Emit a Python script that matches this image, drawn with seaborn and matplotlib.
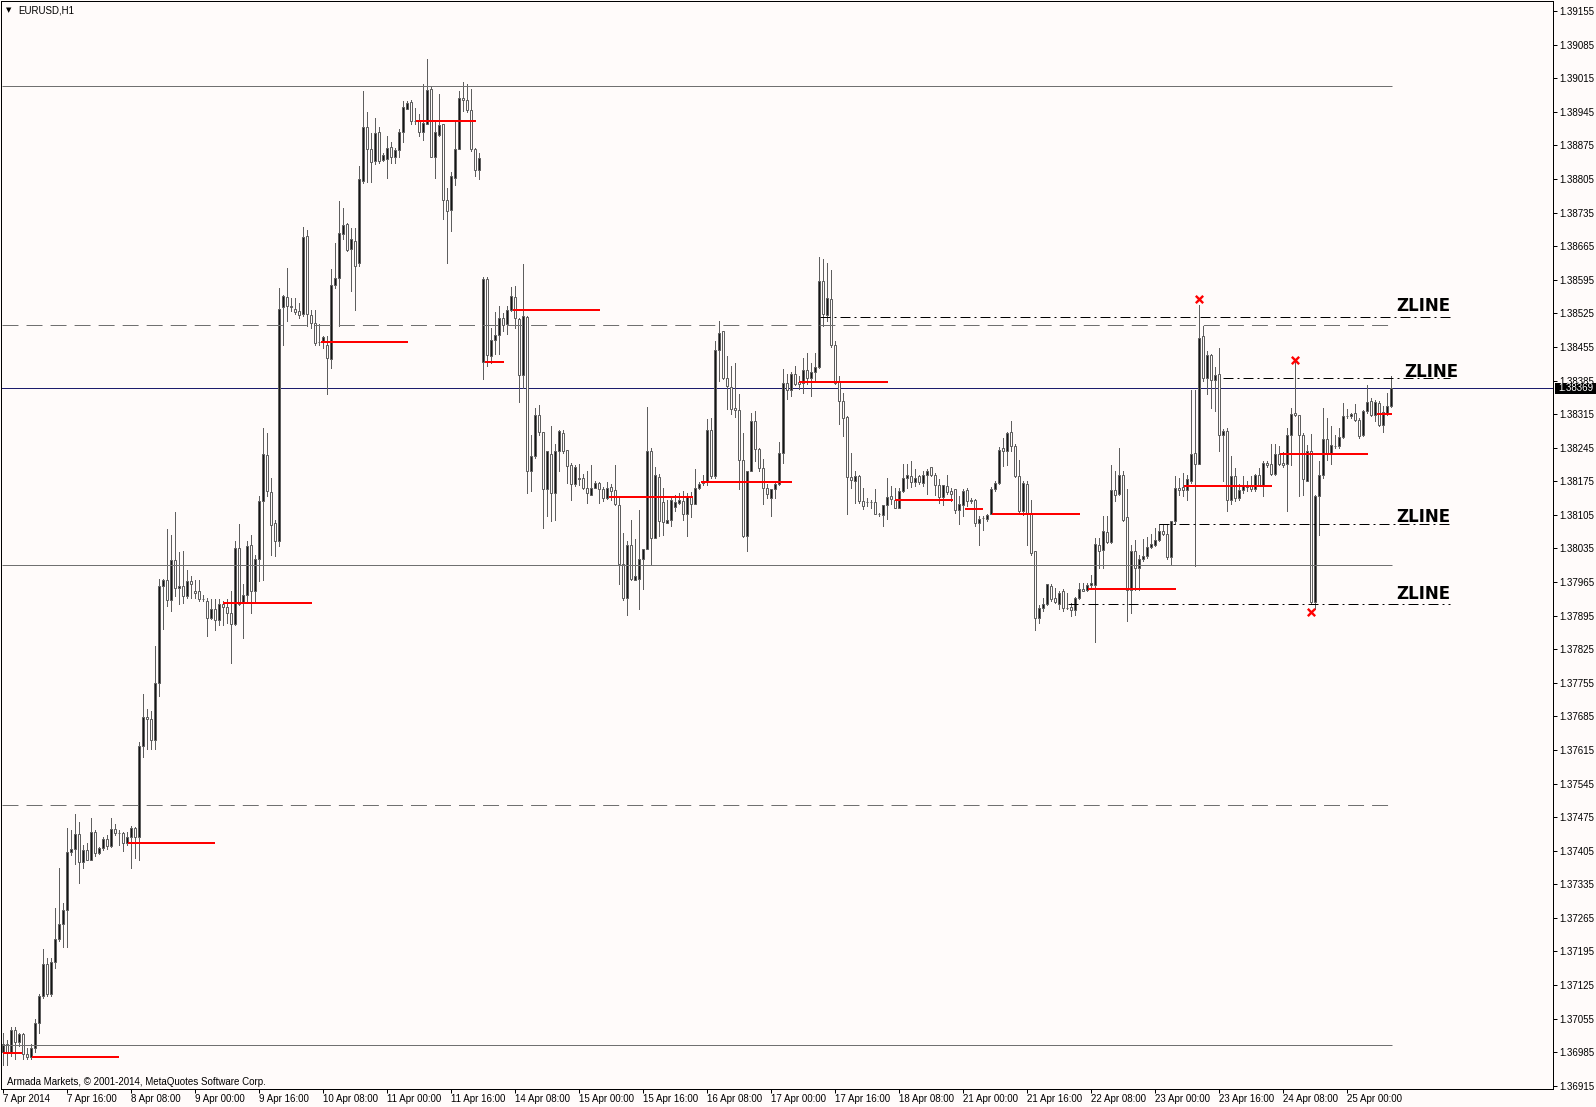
import numpy as np
import matplotlib
matplotlib.use("Agg")
import matplotlib.pyplot as plt
import matplotlib.transforms as mtransforms
from matplotlib.patches import Rectangle
import seaborn as sns

# EURUSD H1, 7 Apr 2014 .. 25 Apr 2014, one value per bar
# prices stored as pips above BASE (1.3600 + pips / 10000)
BASE = 1.36

bar_open = [
    98.6, 100.2, 98.6, 103.2, 100.6, 102.2, 98.2, 97.4, 99.4, 104.6,
    110.2, 116.8, 110.6, 117.3, 122.0, 125.3, 128.1, 140.3, 140.9, 143.9,
    138.1, 140.7, 138.6, 144.5, 140.1, 141.1, 142.9, 141.5, 145.0, 144.2,
    144.1, 142.1, 143.3, 145.3, 143.3, 162.4, 168.4, 167.9, 163.6, 175.4,
    195.6, 196.9, 192.8, 201.1, 195.2, 195.6, 193.6, 196.7, 194.7, 194.7,
    192.9, 192.6, 189.0, 190.8, 188.5, 192.0, 191.2, 190.1, 187.8, 203.6,
    192.1, 193.7, 204.2, 194.7, 201.2, 213.4, 223.0, 215.3, 208.8, 205.0,
    253.8, 255.9, 254.0, 253.5, 253.0, 252.3, 268.6, 252.1, 250.5, 246.5,
    246.5, 245.9, 242.9, 258.4, 259.8, 269.1, 271.2, 266.0, 267.6, 262.9,
    280.0, 291.4, 286.7, 284.3, 290.4, 284.4, 284.6, 287.1, 285.0, 286.5,
    290.4, 295.2, 296.6, 292.6, 292.8, 290.4, 291.9, 299.2, 285.0, 289.7,
    291.9, 276.2, 274.1, 280.8, 286.7, 297.3, 297.0, 294.8, 286.7, 282.3,
    242.4, 259.6, 243.6, 246.9, 248.0, 251.6, 250.2, 253.2, 255.9, 251.3,
    239.6, 251.8, 219.7, 222.7, 231.4, 227.7, 215.8, 223.2, 215.1, 223.8,
    227.5, 224.0, 220.8, 217.0, 218.0, 218.1, 216.1, 214.7, 216.1, 217.2,
    215.8, 214.0, 216.3, 215.6, 212.5, 200.3, 193.1, 204.2, 197.0, 197.2,
    201.2, 203.3, 223.8, 205.6, 218.4, 213.2, 208.8, 209.5, 212.1, 213.0,
    213.4, 210.7, 214.4, 212.7, 216.0, 217.2, 217.4, 228.1, 218.6, 244.8,
    248.8, 239.1, 237.2, 232.7, 232.3, 221.9, 206.1, 219.7, 230.1, 224.2,
    220.2, 216.0, 214.1, 215.8, 216.9, 223.5, 237.9, 236.5, 239.8, 238.1,
    237.9, 240.6, 239.0, 240.2, 241.3, 259.3, 252.2, 255.6, 245.9, 238.1,
    234.2, 230.8, 218.3, 217.6, 218.6, 213.4, 213.2, 213.2, 213.2, 210.6,
    210.5, 212.5, 214.4, 213.5, 212.0, 215.4, 218.1, 218.6, 217.4, 218.6,
    217.2, 218.8, 220.4, 218.9, 216.8, 214.3, 216.5, 215.4, 215.8, 211.6,
    212.6, 215.6, 213.4, 213.6, 208.8, 209.8, 209.7, 210.6, 215.8, 217.2,
    224.5, 223.8, 227.8, 224.8, 218.6, 211.3, 217.0, 210.9, 202.9, 189.0,
    191.0, 191.9, 195.6, 193.1, 192.0, 194.7, 191.1, 191.3, 190.6, 193.1,
    195.1, 194.9, 195.8, 195.8, 204.3, 203.1, 206.9, 204.9, 215.6, 214.9,
    218.9, 210.0, 194.9, 203.0, 199.4, 201.2, 201.9, 203.8, 204.3, 205.3,
    207.1, 206.6, 201.7, 209.2, 216.1, 216.4, 215.6, 217.5, 223.4, 221.1,
    247.7, 239.0, 243.9, 238.7, 239.9, 227.2, 227.9, 213.5, 218.5, 214.0,
    215.6, 216.7, 216.5, 215.8, 218.8, 216.7, 221.3, 221.1, 219.0, 223.1,
    221.3, 221.1, 227.2, 231.7, 231.3, 227.1, 217.6, 223.9, 192.3, 214.4,
    218.8, 226.4, 223.1, 224.9, 224.8, 226.7, 231.2, 231.1, 231.7, 230.2,
    227.1, 232.1, 234.3, 231.3, 233.8, 229.2, 231.8, 233.1,
]

bar_high = [
    102.6, 101.0, 103.8, 103.8, 102.6, 102.6, 99.4, 100.2, 105.4, 110.6,
    120.1, 118.1, 118.1, 128.5, 136.9, 129.7, 145.3, 144.9, 148.1, 146.5,
    141.7, 142.1, 147.3, 144.9, 141.3, 143.3, 143.7, 147.3, 146.1, 144.9,
    144.5, 144.5, 145.7, 145.5, 163.2, 173.2, 170.0, 169.6, 183.2, 197.2,
    197.2, 207.5, 206.3, 211.1, 202.7, 202.9, 199.1, 197.8, 197.0, 197.0,
    193.9, 193.2, 192.9, 192.9, 192.9, 192.5, 192.9, 194.6, 205.0, 208.5,
    196.0, 205.0, 206.4, 202.2, 214.4, 228.6, 227.6, 218.2, 209.5, 257.8,
    256.4, 262.0, 255.7, 255.7, 254.7, 270.5, 269.8, 253.3, 253.3, 250.2,
    247.7, 247.7, 261.7, 267.2, 275.9, 274.5, 271.4, 270.2, 270.2, 283.2,
    298.9, 294.4, 290.2, 293.3, 291.4, 286.0, 289.5, 288.3, 287.0, 291.0,
    296.7, 296.8, 297.0, 295.4, 294.0, 300.3, 305.5, 299.9, 292.3, 298.2,
    291.9, 278.7, 282.0, 292.3, 298.9, 300.8, 300.4, 299.2, 287.0, 286.0,
    260.0, 260.0, 249.5, 252.7, 254.1, 252.5, 254.1, 257.9, 258.2, 251.6,
    262.7, 252.0, 227.2, 232.8, 233.4, 227.7, 223.8, 229.0, 225.2, 228.1,
    228.1, 224.1, 221.3, 221.0, 221.1, 219.0, 219.6, 221.0, 217.5, 217.4,
    216.3, 217.4, 217.0, 220.9, 214.0, 206.7, 205.1, 209.5, 205.4, 211.6,
    203.3, 233.0, 224.5, 220.4, 219.0, 216.1, 213.5, 214.4, 214.7, 215.1,
    215.4, 215.1, 215.3, 220.0, 217.4, 218.8, 230.4, 230.7, 246.7, 250.9,
    248.9, 243.6, 241.5, 242.2, 235.6, 227.6, 219.7, 231.8, 232.2, 224.5,
    222.1, 216.9, 215.8, 217.2, 225.6, 240.9, 239.8, 240.2, 241.5, 239.5,
    243.3, 244.3, 242.2, 244.3, 264.3, 263.8, 263.1, 261.5, 246.8, 239.5,
    236.0, 231.1, 223.5, 219.6, 218.9, 216.2, 214.1, 213.7, 215.8, 210.9,
    212.5, 218.1, 216.5, 216.2, 216.2, 221.1, 221.1, 221.8, 220.0, 218.9,
    219.6, 220.0, 220.4, 219.3, 217.9, 216.8, 218.8, 216.1, 215.8, 214.4,
    215.8, 216.0, 214.1, 213.8, 210.2, 210.2, 210.7, 216.3, 217.5, 224.6,
    226.6, 227.8, 230.0, 225.3, 222.0, 217.5, 217.5, 213.7, 202.9, 191.8,
    193.2, 196.1, 196.0, 195.3, 194.7, 195.1, 194.2, 192.2, 193.3, 196.3,
    196.3, 196.3, 198.0, 205.7, 205.7, 210.2, 210.2, 221.0, 219.7, 224.5,
    219.6, 215.8, 204.3, 205.3, 202.2, 205.5, 205.8, 206.5, 207.8, 208.5,
    208.5, 208.6, 209.2, 218.5, 218.1, 219.2, 218.8, 236.6, 236.6, 254.2,
    249.8, 244.6, 244.0, 241.3, 245.3, 228.3, 228.6, 222.7, 220.3, 217.0,
    218.5, 217.5, 218.5, 219.0, 220.3, 221.7, 221.8, 225.3, 225.3, 224.8,
    223.6, 228.6, 232.8, 242.5, 231.4, 227.6, 225.1, 227.4, 214.7, 221.7,
    232.8, 230.7, 229.0, 227.2, 228.6, 233.8, 232.5, 231.8, 233.6, 230.7,
    232.4, 237.5, 234.9, 234.5, 234.3, 233.1, 235.9, 239.4,
]

bar_low = [
    95.8, 95.8, 97.8, 97.0, 99.8, 97.0, 97.0, 97.0, 98.6, 102.6,
    109.8, 110.2, 110.2, 116.1, 121.7, 120.5, 120.5, 139.7, 137.7, 133.7,
    136.9, 138.5, 138.5, 139.3, 139.9, 140.7, 140.9, 141.3, 143.7, 141.7,
    140.5, 141.7, 136.9, 138.9, 138.5, 160.0, 161.6, 161.6, 161.6, 172.8,
    186.8, 191.6, 190.4, 193.6, 192.0, 192.2, 193.2, 193.2, 193.2, 192.5,
    192.5, 185.2, 188.8, 186.6, 187.6, 187.6, 187.9, 179.6, 187.6, 191.8,
    184.9, 192.2, 190.1, 192.2, 196.7, 197.0, 214.4, 202.2, 201.9, 204.0,
    246.0, 250.9, 253.0, 252.3, 251.6, 251.9, 249.8, 249.5, 246.0, 246.0,
    245.3, 235.6, 241.2, 257.8, 249.8, 268.0, 265.5, 257.1, 253.3, 262.4,
    279.7, 279.8, 279.8, 283.6, 283.9, 284.3, 280.7, 283.9, 283.9, 285.2,
    288.3, 295.0, 292.0, 291.9, 289.5, 288.6, 291.9, 285.0, 280.8, 289.5,
    272.1, 263.1, 269.6, 279.3, 286.7, 294.7, 294.4, 286.4, 281.2, 280.5,
    238.8, 241.5, 242.2, 244.0, 244.0, 248.8, 248.1, 253.0, 249.5, 234.0,
    237.0, 215.0, 215.4, 222.4, 227.2, 207.8, 210.2, 209.2, 209.5, 219.6,
    223.4, 217.2, 213.7, 216.5, 216.8, 215.8, 213.0, 214.6, 216.0, 213.0,
    213.4, 213.9, 213.7, 212.5, 196.1, 192.8, 189.7, 197.0, 197.0, 190.8,
    195.1, 203.3, 200.1, 205.6, 206.1, 206.4, 208.8, 208.1, 211.3, 212.7,
    209.5, 206.1, 210.0, 212.7, 215.8, 216.8, 216.8, 218.2, 218.2, 238.4,
    238.8, 232.5, 231.5, 230.8, 215.8, 205.8, 203.0, 219.7, 221.7, 219.7,
    212.7, 214.1, 210.3, 214.1, 216.7, 221.4, 234.6, 235.3, 237.6, 236.7,
    236.0, 237.7, 235.3, 238.4, 241.2, 249.9, 250.9, 245.4, 237.7, 229.4,
    226.9, 210.6, 216.2, 213.0, 213.0, 211.7, 212.4, 212.0, 210.6, 210.2,
    208.2, 209.6, 212.7, 212.0, 212.0, 215.3, 216.1, 216.3, 216.5, 217.0,
    216.5, 214.9, 218.6, 214.7, 213.0, 212.5, 214.9, 213.4, 210.9, 208.5,
    210.2, 212.3, 213.0, 208.1, 204.3, 207.4, 209.2, 210.6, 215.4, 217.0,
    220.6, 221.0, 223.9, 218.4, 210.9, 210.4, 204.3, 202.1, 186.6, 188.0,
    190.4, 191.7, 192.5, 192.2, 190.8, 190.4, 190.8, 189.4, 189.7, 192.9,
    194.6, 194.7, 195.3, 184.1, 199.4, 199.4, 204.7, 204.7, 213.3, 214.7,
    209.2, 188.3, 190.1, 194.9, 194.9, 200.8, 201.5, 203.6, 204.0, 205.0,
    206.4, 201.4, 200.1, 208.6, 214.7, 214.4, 213.7, 217.2, 199.8, 221.1,
    238.4, 235.6, 232.8, 232.1, 223.8, 217.5, 211.3, 212.8, 213.3, 213.7,
    215.1, 215.4, 215.4, 215.4, 216.5, 214.4, 220.4, 218.9, 218.9, 221.0,
    220.4, 211.3, 221.0, 231.1, 214.4, 214.7, 217.5, 191.9, 190.8, 206.4,
    218.2, 222.0, 221.1, 224.5, 224.5, 226.5, 230.7, 230.7, 230.0, 226.5,
    226.9, 231.7, 231.1, 230.0, 229.0, 227.8, 231.4, 233.0,
]

bar_close = [
    100.2, 98.6, 103.2, 100.6, 102.2, 98.2, 97.4, 99.4, 104.6, 110.2,
    116.8, 110.6, 117.3, 122.0, 125.3, 128.1, 140.3, 140.9, 143.9, 138.1,
    140.7, 138.6, 144.5, 140.1, 141.1, 142.9, 141.5, 145.0, 144.2, 144.1,
    142.1, 143.3, 145.3, 143.3, 162.4, 168.4, 167.9, 163.6, 175.4, 195.6,
    196.9, 192.8, 201.1, 195.2, 195.6, 193.6, 196.7, 196.1, 194.2, 192.9,
    192.9, 189.0, 190.8, 188.5, 192.0, 191.3, 190.1, 187.8, 203.6, 191.9,
    193.9, 204.0, 194.7, 201.2, 213.4, 223.1, 215.4, 208.4, 205.0, 253.5,
    256.1, 254.0, 253.8, 252.8, 252.1, 268.4, 252.3, 250.5, 246.4, 246.5,
    247.5, 243.1, 258.5, 259.8, 269.3, 271.0, 265.8, 267.9, 262.3, 280.5,
    291.4, 286.7, 284.1, 290.0, 284.3, 285.5, 286.9, 285.0, 286.5, 290.3,
    295.5, 296.4, 292.5, 292.6, 290.4, 292.1, 299.0, 285.0, 290.4, 291.8,
    276.2, 273.9, 281.2, 286.7, 297.3, 297.0, 294.8, 286.7, 282.3, 284.8,
    259.6, 243.8, 246.9, 248.0, 251.6, 250.1, 253.2, 256.1, 251.5, 239.6,
    252.0, 219.7, 222.7, 231.3, 227.8, 215.8, 223.8, 215.1, 223.8, 227.9,
    223.8, 220.6, 217.0, 220.4, 218.2, 216.1, 215.1, 216.1, 217.2, 215.8,
    214.0, 216.0, 215.4, 212.7, 200.3, 193.2, 204.2, 197.2, 197.7, 201.2,
    203.3, 223.8, 205.6, 218.9, 209.2, 209.0, 209.5, 213.5, 213.2, 213.5,
    210.7, 214.5, 212.7, 216.0, 217.0, 217.4, 228.1, 218.6, 244.8, 248.4,
    239.0, 237.4, 232.5, 232.4, 221.9, 206.1, 219.7, 230.1, 224.2, 220.2,
    216.0, 214.8, 215.8, 216.9, 223.5, 237.9, 236.5, 239.8, 237.7, 237.7,
    240.6, 239.0, 240.2, 241.3, 259.3, 252.3, 255.8, 245.9, 237.9, 234.2,
    230.6, 218.3, 217.7, 218.6, 213.3, 212.4, 213.2, 213.2, 210.6, 210.6,
    212.5, 214.2, 213.9, 212.0, 215.4, 218.1, 218.8, 217.4, 218.2, 217.4,
    218.8, 219.7, 218.8, 216.8, 214.3, 216.8, 215.3, 214.9, 211.6, 212.7,
    215.4, 213.4, 213.7, 208.8, 209.7, 209.9, 210.4, 215.8, 217.2, 224.1,
    223.8, 227.5, 224.8, 218.6, 211.3, 217.2, 210.9, 202.6, 189.0, 191.0,
    191.9, 196.0, 192.9, 192.4, 194.2, 191.0, 191.1, 190.6, 193.1, 195.1,
    194.7, 195.8, 196.3, 204.5, 203.0, 207.1, 204.9, 215.6, 214.7, 218.8,
    209.5, 194.9, 203.0, 199.4, 201.2, 201.9, 203.8, 204.5, 205.3, 207.1,
    206.6, 201.7, 209.2, 216.0, 215.6, 215.6, 217.9, 223.2, 221.1, 247.4,
    239.0, 243.9, 238.7, 239.7, 227.2, 227.9, 213.5, 218.5, 214.0, 215.6,
    216.5, 216.3, 215.8, 218.8, 216.7, 221.3, 220.8, 219.0, 223.1, 221.1,
    221.0, 227.2, 231.5, 231.3, 227.1, 217.9, 223.8, 192.3, 214.4, 218.9,
    226.4, 223.2, 225.1, 224.9, 226.7, 231.1, 231.2, 231.6, 230.2, 226.9,
    232.1, 234.0, 231.3, 234.0, 229.2, 232.0, 233.1, 236.9,
]

# time axis labels, one every 16 bars
time_labels = [
    "7 Apr 2014", "7 Apr 16:00", "8 Apr 08:00", "9 Apr 00:00", "9 Apr 16:00",
    "10 Apr 08:00", "11 Apr 00:00", "11 Apr 16:00", "14 Apr 08:00",
    "15 Apr 00:00", "15 Apr 16:00", "16 Apr 08:00", "17 Apr 00:00",
    "17 Apr 16:00", "18 Apr 08:00", "21 Apr 00:00", "21 Apr 16:00",
    "22 Apr 08:00", "23 Apr 00:00", "23 Apr 16:00", "24 Apr 08:00",
    "25 Apr 00:00",
]
label_step = 16

# round number levels
round_levels = [1.3700, 1.3750, 1.3800, 1.3850, 1.3900]
round_dashed = [False, True, False, True, False]
last_price = 1.38369

# red daily segments (bar start, bar end, level in pips)
day_start = [0.0, 7.2, 31.2, 55.1, 79.4, 103.3, 120.5, 127.4, 151.6,
             174.5, 199.1, 223.0, 240.5, 247.2, 271.3, 295.2, 319.2, 343.4]
day_end = [4.7, 29.1, 53.0, 77.2, 101.3, 118.2, 125.2, 149.2, 172.6,
           197.2, 221.2, 237.6, 245.1, 269.2, 293.2, 317.2, 341.2, 347.2]
day_level = [98.3, 97.4, 142.2, 192.2, 246.6, 292.6, 242.4, 253.3, 214.2,
             217.4, 238.1, 213.6, 211.8, 210.7, 195.1, 216.5, 223.2, 231.5]

# ZLINE objects
zline_level = [1.38517, 1.38390, 1.38087, 1.37919]
zline_start = [204.3, 305.1, 289.1, 266.3]
zline_end = 361.75

# red x marks at swing points
mark_bar = [299, 323, 327]
mark_level = [255.4, 242.7, 190.3]

# ---------------------------------------------------------------
sns.set_theme(style="white")
plt.rcParams['font.family'] = ['Liberation Sans', 'DejaVu Sans']
plt.rcParams['lines.scale_dashes'] = False

BG = '#fffbfa'
EDGE = '#5e5e5e'
LEVEL_GRAY = '#707070'
NAVY = '#1c1c6c'
PX = 0.72          # one pixel in points at 100 dpi
W, H = 1596, 1107

# pixel calibration of the price scale: 1.3900 at y=85.5, 47975 px per 1.0
def price_at(py):
    return 1.39 + (85.5 - py) / 47975.0

def bar_at(px):
    return (px - 3) / 4.0

fig = plt.figure(figsize=(W / 100, H / 100), dpi=100, facecolor=BG)
ax = fig.add_axes([1 / W, 1 - 1089 / H, 1552 / W, 1088 / H])
ax.set_facecolor(BG)

x = np.arange(len(bar_open))
o = BASE + np.array(bar_open) / 1e4
h = BASE + np.array(bar_high) / 1e4
l = BASE + np.array(bar_low) / 1e4
c = BASE + np.array(bar_close) / 1e4
bull = c > o

ax.axhline(last_price, color=NAVY, lw=PX, zorder=2)

# candles: wicks then bodies (bull = black, bear = white, MT4 style)
ax.vlines(x, l, h, colors=EDGE, lw=PX, zorder=3, antialiased=False)
ax.bar(x, np.abs(c - o), bottom=np.minimum(o, c), width=0.5,
       color=np.where(bull, '#151515', BG), edgecolor=EDGE,
       linewidth=PX, zorder=3.5)

# round levels
for lev, dashed in zip(round_levels, round_dashed):
    ls = (0, (11.5, 5.8)) if dashed else 'solid'
    ax.hlines(lev, -0.2, 347.2, colors=LEVEL_GRAY, lw=PX, linestyles=ls,
              zorder=4)

# daily red segments
ax.hlines(BASE + np.array(day_level) / 1e4, day_start, day_end,
          colors='#ff0000', lw=2 * PX, zorder=5)

# ZLINE objects
for lev, start in zip(zline_level, zline_start):
    ax.hlines(lev, start, zline_end, colors='black', lw=PX,
              linestyles=(0, (7.2, 2.9, 1.4, 2.9)), zorder=5)

zline_text_x = [bar_at(1450), bar_at(1458), bar_at(1450), bar_at(1450)]
zline_text_y = [price_at(311), price_at(377), price_at(522), price_at(599)]
for tx, ty in zip(zline_text_x, zline_text_y):
    ax.text(tx, ty, "ZLINE", ha='right', va='baseline', fontsize=12,
            fontweight='bold', family=['DejaVu Sans'], color='black',
            zorder=6)

sns.scatterplot(x=mark_bar, y=BASE + np.array(mark_level) / 1e4, ax=ax,
                marker='x', color='#ff0000', s=28, linewidth=1.7,
                legend=False, zorder=7)

ax.set_xlim(-0.5, 387.5)
ax.set_ylim(price_at(1089), price_at(1))

# axes styling
for sp in ax.spines.values():
    sp.set_color('black')
    sp.set_linewidth(PX)
    sp.set_visible(True)

ax.yaxis.tick_right()
yt = np.round(np.arange(1.36915, 1.3916, 0.0007), 5)
ax.set_yticks(yt)
ax.set_yticklabels([f"{v:.5f}" for v in yt])
ax.tick_params(axis='y', right=True, left=False, length=3.5 * PX,
               width=PX, pad=2.2, labelsize=7, colors='black')

xt = np.arange(len(time_labels)) * label_step
ax.set_xticks(xt)
ax.set_xticklabels(time_labels, ha='left')
ax.tick_params(axis='x', bottom=True, length=4 * PX, width=PX, pad=0.6,
               labelsize=7, colors='black')
ax.grid(False)

# current price box on the scale
box_tr = mtransforms.blended_transform_factory(ax.transAxes, ax.transData)
ax.add_patch(Rectangle((1 + 2 / 1552, last_price - 5.5 / 47975),
                       41 / 1552, 11 / 47975, transform=box_tr,
                       facecolor='black', edgecolor='none',
                       clip_on=False, zorder=10))
ax.text(1 + 5.5 / 1552, last_price, f"{last_price:.5f}", transform=box_tr,
        color='white', fontsize=7, ha='left', va='center',
        clip_on=False, zorder=11)

# chart caption and broker line
fig.text(5.5 / W, 1 - 10.2 / H, "\u25bc", fontsize=5, ha='left',
         va='center', family=['DejaVu Sans'], color='black')
fig.text(18 / W, 1 - 10.7 / H, "EURUSD,H1", fontsize=7, ha='left',
         va='center', color='black')
fig.text(7 / W, 1 - 1082 / H,
         "Armada Markets, \u00a9 2001-2014, MetaQuotes Software Corp.",
         fontsize=7, ha='left', va='center', color='black')

fig.savefig("out.png", dpi=100, facecolor=BG)
